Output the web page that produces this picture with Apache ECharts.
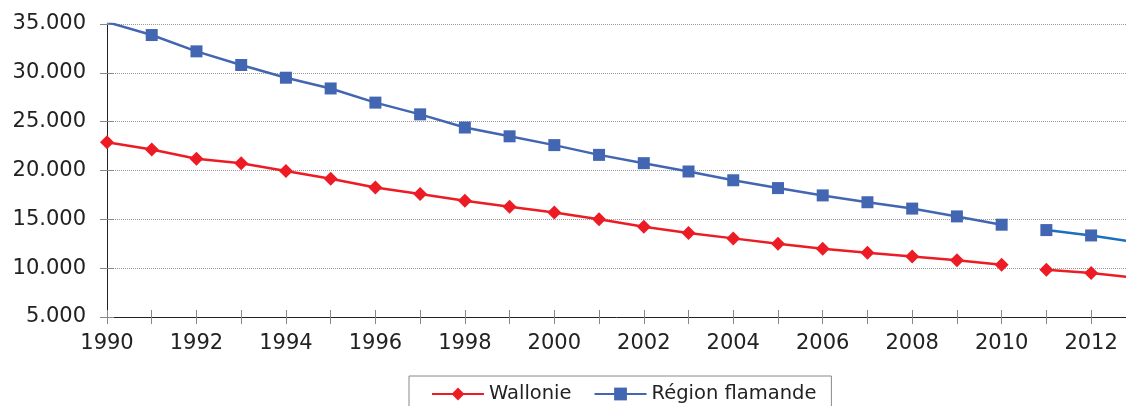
<!DOCTYPE html>
<html>
<head>
<meta charset="utf-8">
<script src="https://cdn.jsdelivr.net/npm/echarts@6/dist/echarts.min.js"></script>
<style>
  html, body { margin: 0; padding: 0; background: #fff; }
  #chart { width: 1126px; height: 406px; }
</style>
</head>
<body>
<div id="chart"></div>
<script>
const YEARS = [1990, 1991, 1992, 1993, 1994, 1995, 1996, 1997, 1998, 1999, 2000, 2001,
  2002, 2003, 2004, 2005, 2006, 2007, 2008, 2009, 2010, 2011, 2012, 2013];
const WALLONIE = [22900, 22150, 21200, 20750, 19950, 19150, 18250, 17600, 16900, 16300, 15700, 15000,
  14250, 13600, 13050, 12500, 12000, 11580, 11200, 10800, 10350, 9850, 9500, 9000];
const FLAMANDE = [35200, 33870, 32200, 30800, 29500, 28400, 26950, 25750, 24400, 23500, 22600, 21600,
  20750, 19900, 19000, 18200, 17450, 16750, 16100, 15300, 14450, 13900, 13350, 12650];
const BREAK_YEAR = 2011; // data series is interrupted between 2010 and 2011

const RED = '#ed1c24';
const BLUE = '#4266b2';
const BLUE_LATE = '#1a6fc0';
const X_MIN = 1990, X_MAX = 2012.78;

function pairs(values, from, to) {
  let out = [];
  for (let i = 0; i < YEARS.length; i++) {
    if (YEARS[i] >= from && YEARS[i] < to) out.push([YEARS[i], values[i]]);
  }
  return out;
}

function lineSeries(name, data, lineColor, markColor, symbol, size) {
  return {
    name: name,
    type: 'line',
    data: data,
    symbol: symbol,
    symbolSize: size,
    clip: true,
    lineStyle: { color: lineColor, width: 2.5 },
    itemStyle: { color: markColor },
    emphasis: { disabled: true }
  };
}

// the reference ticks cross the axis, so a second bare axis draws the inner half
const tickOnly = {
  axisLine: { show: false },
  axisLabel: { show: false },
  splitLine: { show: false },
  axisTick: { show: true, inside: true, length: 7, lineStyle: { color: '#888' } }
};

const chart = echarts.init(document.getElementById('chart'));
chart.setOption({
  animation: false,
  textStyle: { fontFamily: 'DejaVu Sans' },
  grid: { left: 107, right: 0, top: 24, bottom: 89, containLabel: false },
  legend: {
    data: ['Wallonie', 'Région flamande'],
    left: 409,
    top: 376,
    itemWidth: 52,
    itemHeight: 16,
    itemGap: 22,
    padding: [8, 15, 12, 22],
    borderColor: '#888',
    borderWidth: 1,
    textStyle: { fontSize: 19.5, color: '#222', fontFamily: 'DejaVu Sans' }
  },
  xAxis: [{
    type: 'value',
    min: X_MIN,
    max: X_MAX,
    interval: 1,
    axisLine: { lineStyle: { color: '#222', width: 1 } },
    axisTick: { length: 7, lineStyle: { color: '#888' } },
    axisLabel: {
      margin: 16,
      fontSize: 21,
      color: '#222',
      showMaxLabel: false,
      formatter: function (v) {
        return (Number.isInteger(v) && v % 2 === 0) ? String(v) : '';
      }
    },
    splitLine: { show: false }
  }, Object.assign({ type: 'value', min: X_MIN, max: X_MAX, interval: 1, position: 'bottom' }, tickOnly)],
  yAxis: [{
    type: 'value',
    min: 5000,
    max: 35000,
    interval: 5000,
    axisLine: { show: true, lineStyle: { color: '#222', width: 1 } },
    axisTick: { show: true, length: 7, lineStyle: { color: '#888' } },
    axisLabel: {
      margin: 21,
      fontSize: 21,
      color: '#222',
      formatter: function (v) { return (v / 1000).toFixed(3); }
    },
    splitLine: { lineStyle: { color: '#999', type: 'dotted', width: 1 } }
  }, Object.assign({ type: 'value', min: 5000, max: 35000, interval: 5000, position: 'left' }, tickOnly)],
  series: [
    lineSeries('Wallonie', pairs(WALLONIE, 0, BREAK_YEAR), RED, RED, 'diamond', 14),
    lineSeries('Région flamande', pairs(FLAMANDE, 0, BREAK_YEAR), BLUE, BLUE, 'rect', 12),
    lineSeries('Wallonie', pairs(WALLONIE, BREAK_YEAR, 9999), RED, RED, 'diamond', 14),
    lineSeries('Région flamande', pairs(FLAMANDE, BREAK_YEAR, 9999), BLUE_LATE, BLUE, 'rect', 12)
  ]
});
</script>
</body>
</html>
